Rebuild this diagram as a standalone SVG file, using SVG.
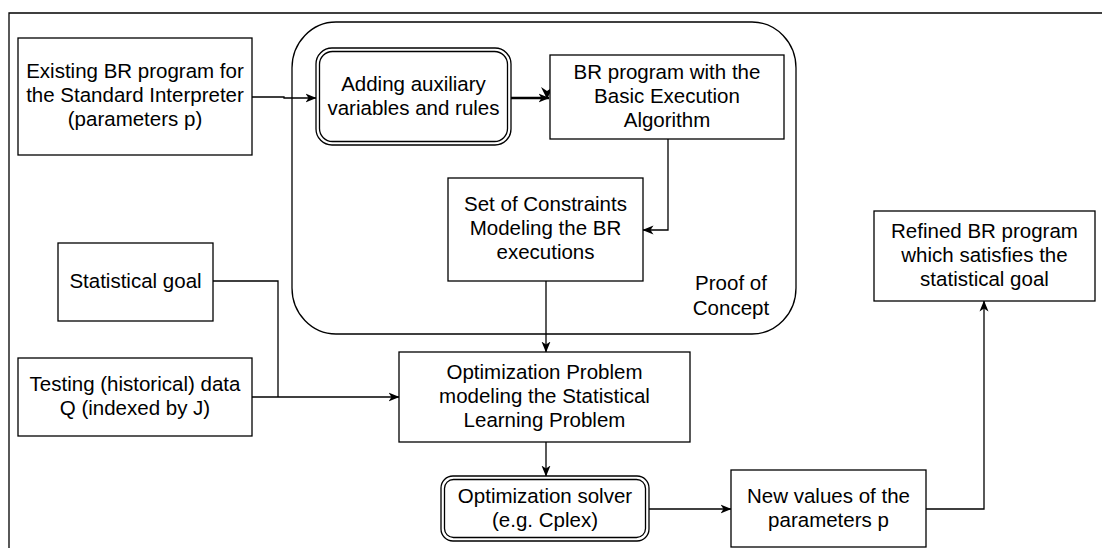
<svg xmlns="http://www.w3.org/2000/svg" width="1102" height="548" viewBox="0 0 1102 548">
<style>
.box{fill:#fff;stroke:#000;stroke-width:1.3}
.frame{fill:none;stroke:#000;stroke-width:1.3}
.edge{fill:none;stroke:#000;stroke-width:1.3}
.thick{fill:none;stroke:#000;stroke-width:2.6}
text{font-family:"Liberation Sans",Arial,Helvetica,sans-serif;font-size:20.5px;fill:#000;text-anchor:middle}
</style>
<defs>
<marker id="arr" viewBox="0 0 11 10" refX="10.5" refY="5" markerWidth="11" markerHeight="10" markerUnits="userSpaceOnUse" orient="auto">
<path d="M0,0.5 L11,5 L0,9.5 L3,5 z" fill="#000"/>
</marker>
</defs>
<rect width="1102" height="548" fill="#fff"/>
<path class="frame" d="M9,548 V13 H1102"/>

<g id="proof-of-concept">
<rect class="box" x="292" y="22" width="504" height="312" rx="44" ry="46" style="fill:none"/>
<text x="731" y="290">Proof of</text>
<text x="731" y="315">Concept</text>
</g>

<g id="connectors">
<path class="edge" d="M252,97 H284 V98 H316" marker-end="url(#arr)"/>
<path class="thick" d="M511,98 H549" marker-end="url(#arr)"/>
<path d="M541,87 L547,91 L553,87 L547,99 z" fill="#000"/>
<path class="edge" d="M668,139 V230 H643" marker-end="url(#arr)"/>
<path class="edge" d="M546,281 V352" marker-end="url(#arr)"/>
<path class="edge" d="M213,281 H278 V397"/>
<path class="edge" d="M252,397 H399" marker-end="url(#arr)"/>
<path class="edge" d="M546,442 V476" marker-end="url(#arr)"/>
<path class="edge" d="M649,509 H731" marker-end="url(#arr)"/>
<path class="edge" d="M926,509 H984 V301" marker-end="url(#arr)"/>
</g>

<g id="existing-br">
<rect class="box" x="18" y="38" width="234" height="117"/>
<text x="135" y="78">Existing BR program for</text>
<text x="135" y="102">the Standard Interpreter</text>
<text x="135" y="126">(parameters p)</text>
</g>

<g id="adding-aux">
<rect class="box" x="316" y="48" width="195" height="97" rx="16" ry="16"/>
<rect class="box" x="319.5" y="51.5" width="188" height="90" rx="13" ry="13"/>
<text x="413.5" y="91">Adding auxiliary</text>
<text x="413.5" y="115">variables and rules</text>
</g>

<g id="br-basic">
<rect class="box" x="550" y="55" width="234" height="84"/>
<text x="667" y="79">BR program with the</text>
<text x="667" y="103">Basic Execution</text>
<text x="667" y="127">Algorithm</text>
</g>

<g id="constraints">
<rect class="box" x="448" y="178" width="195" height="103"/>
<text x="545.5" y="211">Set of Constraints</text>
<text x="545.5" y="235">Modeling the BR</text>
<text x="545.5" y="259">executions</text>
</g>

<g id="stat-goal">
<rect class="box" x="58" y="243" width="155" height="78"/>
<text x="135.5" y="288">Statistical goal</text>
</g>

<g id="testing-data">
<rect class="box" x="18" y="358" width="234" height="78"/>
<text x="135" y="391">Testing (historical) data</text>
<text x="135" y="415">Q (indexed by J)</text>
</g>

<g id="opt-problem">
<rect class="box" x="399" y="352" width="291" height="90"/>
<text x="544.5" y="379">Optimization Problem</text>
<text x="544.5" y="403">modeling the Statistical</text>
<text x="544.5" y="427">Learning Problem</text>
</g>

<g id="solver">
<rect class="box" x="441" y="476" width="208" height="65" rx="12" ry="12"/>
<rect class="box" x="444.5" y="479.5" width="201" height="58" rx="9" ry="9"/>
<text x="545" y="503">Optimization solver</text>
<text x="545" y="527">(e.g. Cplex)</text>
</g>

<g id="new-values">
<rect class="box" x="731" y="470" width="195" height="77"/>
<text x="828.5" y="503">New values of the</text>
<text x="828.5" y="527">parameters p</text>
</g>

<g id="refined">
<rect class="box" x="874" y="211" width="221" height="90"/>
<text x="984.5" y="238">Refined BR program</text>
<text x="984.5" y="262">which satisfies the</text>
<text x="984.5" y="286">statistical goal</text>
</g>
</svg>
